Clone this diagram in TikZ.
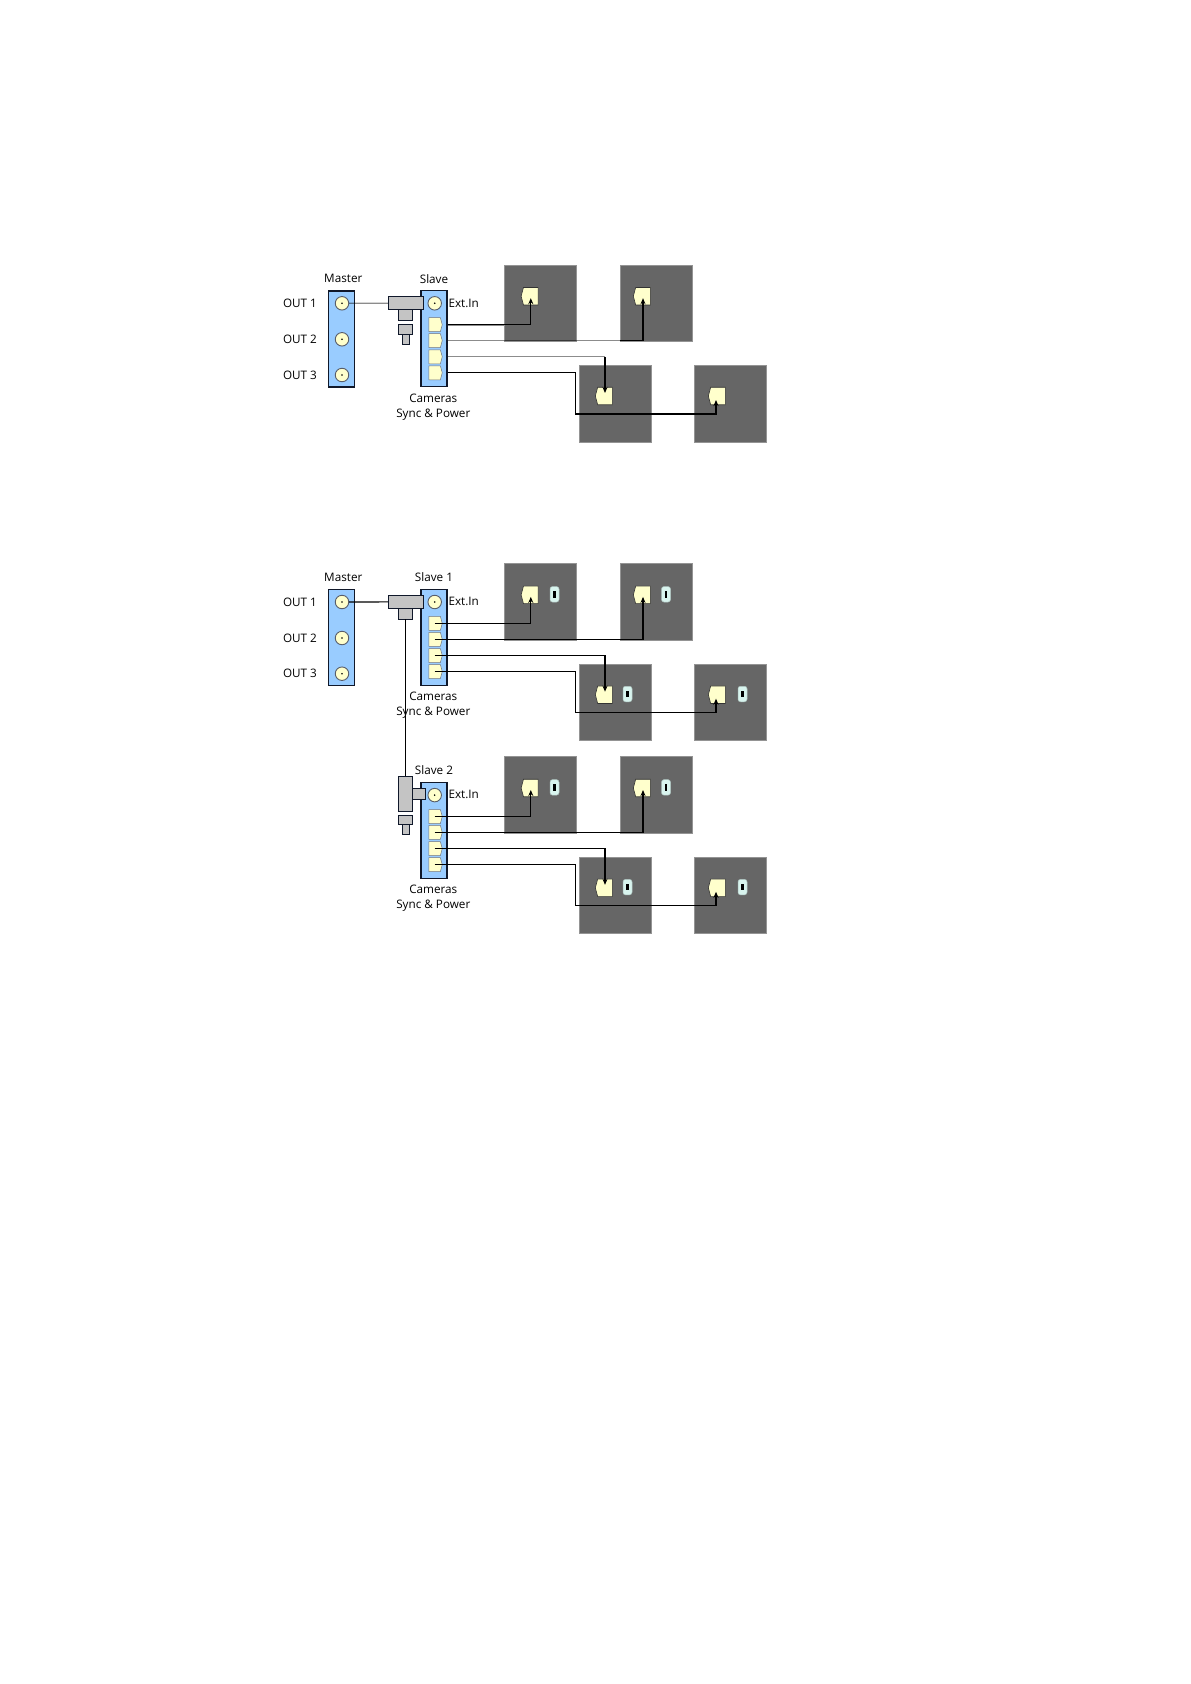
\documentclass[tikz,border=0pt]{standalone}
\usepackage{fontspec}
\setmainfont{Open Sans}
\usetikzlibrary{arrows.meta,calc,positioning,shapes.symbols}
\definecolor{RigInk}{HTML}{10182A}
\definecolor{RigBar}{HTML}{99CCFF}
\definecolor{RigCream}{HTML}{FFFFCC}
\definecolor{RigTee}{HTML}{C4C4C4}
\definecolor{RigCam}{HTML}{666666}
\definecolor{RigCell}{HTML}{D8F4EE}
\tikzset{
  every node/.style={font=\fontsize{11.7}{14}\selectfont, text=black},
  rigbar/.style={draw=RigInk, line width=1.1pt, fill=RigBar, minimum width=26pt, minimum height=96pt, inner sep=0pt},
  bnc/.style={circle, draw=RigInk!70, line width=0.9pt, fill=RigCream, minimum size=13.5pt, inner sep=0pt, path picture={\fill[black] (path picture bounding box.center) circle (0.9pt);}},
  portbox/.style={signal, signal to=east, signal pointer angle=150, draw=RigInk!60, line width=0.5pt, fill=RigCream, minimum width=13.4pt, minimum height=14pt, inner sep=0pt},
  camplug/.style={signal, signal to=west, signal pointer angle=150, draw=black!80, line width=0.6pt, fill=RigCream, minimum width=17pt, minimum height=17.5pt, inner sep=0pt},
  camera/.style={fill=RigCam, draw=RigCam!70, line width=0.5pt, minimum width=72pt, minimum height=76.5pt, inner sep=0pt},
  cellbox/.style={draw=RigCell!80!black, line width=0.5pt, fill=RigCell, rounded corners=2.5pt, minimum width=9pt, minimum height=15.5pt, inner sep=0pt, path picture={\fill[black, sharp corners] (path picture bounding box.center) ++(-1.3pt,-3.2pt) rectangle ++(2.6pt,6.4pt);}},
  teepart/.style={draw=RigInk, line width=0.7pt, fill=RigTee, inner sep=0pt},
  wire/.style={-{Stealth[length=6pt,width=5pt]}, draw=black, line width=1.1pt},
  wirebare/.style={draw=black, line width=1.1pt},
  wirefaint/.style={draw=black, opacity=0.45, line width=1.1pt},
}
\begin{document}
\begin{tikzpicture}[x=1pt,y=-1pt]
  \useasboundingbox (0,0) rectangle (1191,1684);
  % Slave box, ports and the four cameras, once per group
  \foreach \p/\dy/\title in {a/0/Slave,b/298.7/Slave 1,c/491.8/Slave 2}{
    \begin{scope}[shift={(0,\dy)}]
      \node[camera] (\p cam1) at (540.6,303) {};
      \node[camera] (\p cam2) at (655.8,303) {};
      \node[camera] (\p cam3) at (615,403.6) {};
      \node[camera] (\p cam4) at (730,403.6) {};
      \node[camplug] (\p plug1) at (530.8,296.2) {};
      \node[camplug] (\p plug2) at (643,296.2) {};
      \node[camplug] (\p plug3) at (605,396) {};
      \node[camplug] (\p plug4) at (718,396) {};
      \node[rigbar] (\p bar) at (434,338.7) {};
      \node[bnc] (\p ext) at (434.7,303.3) {};
      \foreach \n/\y in {1/324.7,2/340.6,3/356.8,4/372.8}
        \node[portbox] (\p port\n) at (434.6,\y) {};
      \node (\p title) at (434,278.7) {\title};
      \node[anchor=west,inner sep=0pt] (\p extlabel) at (448.3,303) {Ext.In};
      \node (\p cameras) at (433.3,398) {Cameras};
      \node (\p sync) at (433.3,414.3) {Sync \& Power};
    \end{scope}
  }
  % Master box, in the first two groups only
  \foreach \p/\dy in {a/0,b/298.7}{
    \begin{scope}[shift={(0,\dy)}]
      \node[rigbar] (\p master) at (341.7,339) {};
      \node (\p mastertitle) at (343.3,278.7) {Master};
      \foreach \n/\y in {1/303.3,2/339.3,3/375}{
        \node[bnc] (\p out\n) at (342,\y) {};
        \node (\p outlabel\n) at (300,\y) {OUT \n};
      }
      \node[teepart, minimum width=35.4pt, minimum height=13pt] (\p tee) at (406,303.2) {};
      \node[teepart, minimum width=14.4pt, minimum height=10.5pt] (\p stem) at (405.5,315) {};
    \end{scope}
  }
  % Plug left free on the first tee
  \node[teepart, minimum width=7.4pt, minimum height=10.5pt] (aplugpin) at (406,339.5) {};
  \node[teepart, minimum width=14.4pt, minimum height=10pt] (aplug) at (405.5,329.2) {};
  % Upright tee beside Slave 2
  \node[teepart, minimum width=14.4pt, minimum height=10.6pt] (cstub) at (418,794) {};
  \node[teepart, minimum width=14.4pt, minimum height=34.3pt] (ctee) at (405.5,793.8) {};
  \node[teepart, minimum width=7.4pt, minimum height=10.4pt] (cplugpin) at (406,829.5) {};
  \node[teepart, minimum width=14.4pt, minimum height=9.4pt] (cplug) at (405.5,819.6) {};
  % Cells beside the camera plugs
  \foreach \p/\dy in {b/0,c/193.1}{
    \begin{scope}[shift={(0,\dy)}]
      \node[cellbox] (\p cell1) at (554.5,594.3) {};
      \node[cellbox] (\p cell2) at (666,594.3) {};
      \node[cellbox] (\p cell3) at (627.5,694) {};
      \node[cellbox] (\p cell4) at (742.5,694) {};
    \end{scope}
  }
  % Route of the fourth wire under the lower cameras
  \foreach \p/\y in {a/414,b/712.3,c/905.3}
    \coordinate (\p turn) at (575.7,\y);
  % First group, wires start at the box edge
  \draw[wirefaint] (aout1) -- (atee);
  \draw[wirefaint, line width=2.4pt] (abar.east |- aport1) -- (acam1.west |- aport1);
  \draw[wire] (abar.east |- aport1) -| ([yshift=-2pt]aplug1.center);
  \draw[wirefaint] (abar.east |- aport2) -- (acam2.west |- aport2);
  \draw[wire] (acam2.west |- aport2) -| ([yshift=-2pt]aplug2.center);
  \draw[wirefaint] (abar.east |- aport3) -- (aplug3.center |- aport3);
  \draw[wire] (aplug3.center |- aport3) -- ([yshift=3pt]aplug3.center);
  \draw[wire] (abar.east |- aport4) -| (aturn) -| ([xshift=-2pt,yshift=-4pt]aplug4.center);
  % Second and third group, wires start inside the ports
  \foreach \p in {b,c}{
    \draw[wire] (\p port1.center) -| ([yshift=-2pt]\p plug1.center);
    \draw[wire] (\p port2.center) -| ([yshift=-2pt]\p plug2.center);
    \draw[wire] (\p port3.center) -| ([yshift=3pt]\p plug3.center);
    \draw[wire] (\p port4.center) -| (\p turn) -| ([xshift=-2pt,yshift=-4pt]\p plug4.center);
  }
  \draw[wirebare] (bout1) -- (btee);
  % Sync line down to the second slave
  \draw[wirebare] (bstem) -- (ctee);
\end{tikzpicture}
\end{document}
